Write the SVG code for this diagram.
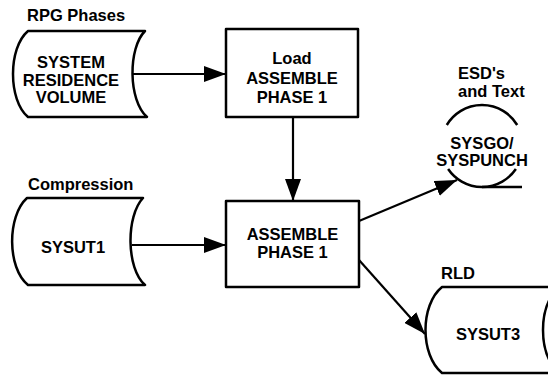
<svg xmlns="http://www.w3.org/2000/svg" width="548" height="375" viewBox="0 0 548 375">
  <style>
    .shape { fill: none; stroke: #000; stroke-width: 2.5; stroke-linejoin: round; }
    .edge { fill: none; stroke: #000; stroke-width: 2.2; }
    text { font-family: "Liberation Sans", Arial, sans-serif; font-size: 16.5px; font-weight: bold; fill: #000; }
    .c { text-anchor: middle; }
  </style>
  <defs>
    <marker id="arrow" viewBox="0 0 22 16" refX="22" refY="8" markerWidth="22" markerHeight="16" markerUnits="userSpaceOnUse" orient="auto">
      <path d="M0,0 L22,8 L0,16 Z" fill="#000"/>
    </marker>
  </defs>

  <rect width="548" height="375" fill="#fff"/>

  <!-- online storage: system residence volume -->
  <g id="sysres">
    <text x="27" y="21">RPG Phases</text>
    <path class="shape" d="M28,31 L145,31 C128,48 128,100 147,117 L28,117 C8,100 8,48 28,31 Z"/>
    <text class="c" x="71" y="68">SYSTEM</text>
    <text class="c" x="71" y="85.5">RESIDENCE</text>
    <text class="c" x="71" y="103">VOLUME</text>
  </g>

  <!-- process: load assemble phase 1 -->
  <g id="load">
    <rect class="shape" x="226" y="29" width="132" height="88"/>
    <text class="c" x="292" y="64">Load</text>
    <text class="c" x="292" y="84">ASSEMBLE</text>
    <text class="c" x="292" y="103">PHASE 1</text>
  </g>

  <!-- online storage: SYSUT1 -->
  <g id="sysut1">
    <text x="28" y="190">Compression</text>
    <path class="shape" d="M27,198 L143,198 C126,216 126,268 145,285 L28,285 C7,268 7,216 27,198 Z"/>
    <text class="c" x="73" y="253">SYSUT1</text>
  </g>

  <!-- process: assemble phase 1 -->
  <g id="assemble">
    <rect class="shape" x="226" y="201" width="133" height="86"/>
    <text class="c" x="292.5" y="240">ASSEMBLE</text>
    <text class="c" x="292.5" y="258">PHASE 1</text>
  </g>

  <!-- magnetic tape: SYSGO/SYSPUNCH -->
  <g id="sysgo">
    <text x="458" y="79">ESD's</text>
    <text x="458" y="97">and Text</text>
    <path class="shape" d="M446.8,125 A41,41 0 0 1 517.2,125"/>
    <path class="shape" d="M448.1,169 A41,41 0 0 0 515.9,169"/>
    <path class="shape" d="M482,187 L522,187"/>
    <text class="c" x="482" y="149">SYSGO/</text>
    <text class="c" x="482" y="166">SYSPUNCH</text>
  </g>

  <!-- direct access storage: SYSUT3 -->
  <g id="sysut3">
    <text x="441" y="279">RLD</text>
    <path class="shape" d="M560,287 L442,287 C420,305 420,355 442,373 L560,373"/>
    <ellipse class="shape" cx="565" cy="330" rx="22" ry="43"/>
    <text class="c" x="488" y="340">SYSUT3</text>
  </g>

  <!-- data flow -->
  <g id="connectors">
    <path class="edge" d="M133,74 L226,74" marker-end="url(#arrow)"/>
    <path class="edge" d="M293,117 L293,201" marker-end="url(#arrow)"/>
    <path class="edge" d="M132,245 L226,245" marker-end="url(#arrow)"/>
    <path class="edge" d="M359,221 L457,180" marker-end="url(#arrow)"/>
    <path class="edge" d="M359,260 L425,334" marker-end="url(#arrow)"/>
  </g>
</svg>
